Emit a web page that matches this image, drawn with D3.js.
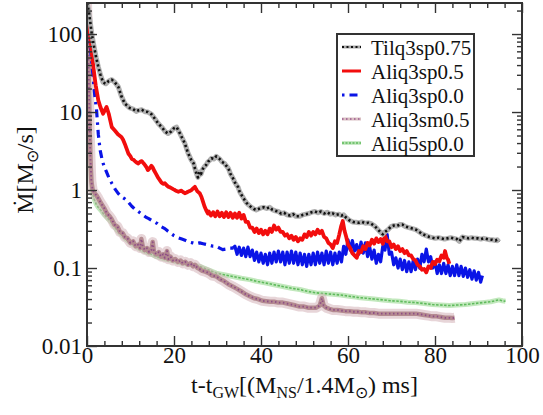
<!DOCTYPE html>
<html>
<head>
<meta charset="utf-8">
<script src="https://cdn.jsdelivr.net/npm/d3@7"></script>
<style>
  html, body { margin: 0; padding: 0; background: #fff; }
  svg { display: block; }
  text { font-family: "Liberation Serif", "Times New Roman", serif; fill: #111; }
</style>
</head>
<body>
<svg id="chart" width="543" height="415"></svg>
<script>
// Mass accretion rate onto the remnant vs. time after merger, [t, Mdot] pairs
const tilq3sp075 = [[0,250],[0.4,200],[0.8,135],[1.1,100],[1.6,70],[2.1,50],[2.6,38],[3.1,30],[3.7,24],[4.3,23],[5.0,25],[5.7,26],[6.4,24],[7.2,21],[7.9,16],[8.7,12.8],[9.3,12],[9.8,11.3],[10.5,11],[11.3,10.2],[11.8,10.5],[12.6,10.7],[13.3,10.1],[14.0,10.0],[14.8,9.4],[15.6,8.2],[16.4,7.1],[17.2,6.4],[18.0,5.6],[18.6,5.3],[19.3,5.6],[20.0,6.2],[20.6,6.4],[21.3,5.4],[22.0,4.5],[22.5,3.95],[23.2,3.0],[24.0,2.4],[24.5,2.2],[24.8,1.9],[25.2,1.6],[25.5,1.45],[25.8,1.7],[26.2,1.6],[26.6,1.85],[27.0,2.0],[27.4,2.1],[27.8,2.3],[28.2,2.4],[28.6,2.55],[29.2,2.5],[29.7,2.7],[30.1,2.6],[30.5,2.5],[31.0,2.3],[31.6,2.2],[32.0,2.05],[32.5,1.9],[33.0,1.6],[33.3,1.5],[33.6,1.4],[34.0,1.25],[34.4,1.15],[34.7,1.1],[35.1,0.95],[35.6,0.85],[36.2,0.75],[36.7,0.68],[37.2,0.64],[37.8,0.6],[38.4,0.57],[38.9,0.555],[39.4,0.57],[40.0,0.59],[40.6,0.6],[41.3,0.58],[42.0,0.6],[42.6,0.56],[43.3,0.54],[44.0,0.53],[44.6,0.5],[45.3,0.51],[46.0,0.48],[46.7,0.47],[47.4,0.49],[48.0,0.46],[48.9,0.46],[49.6,0.48],[50.3,0.49],[51.0,0.5],[51.7,0.52],[52.4,0.53],[53.1,0.51],[53.8,0.53],[54.5,0.5],[55.2,0.52],[55.9,0.49],[56.5,0.5],[57.2,0.48],[57.9,0.49],[58.5,0.47],[59.0,0.48],[59.6,0.44],[60.3,0.41],[61.1,0.39],[61.8,0.385],[62.5,0.38],[63.2,0.39],[64.0,0.375],[64.7,0.38],[65.3,0.37],[66.0,0.35],[66.7,0.32],[67.4,0.29],[68.0,0.27],[68.5,0.29],[69.2,0.31],[69.9,0.34],[70.5,0.35],[71.2,0.345],[71.9,0.36],[72.5,0.36],[73.2,0.34],[74.0,0.33],[74.8,0.32],[75.6,0.31],[76.4,0.29],[77.2,0.27],[78.0,0.26],[78.7,0.25],[79.4,0.245],[80.1,0.24],[80.8,0.245],[81.5,0.24],[82.2,0.235],[82.9,0.24],[83.6,0.245],[84.3,0.24],[85.0,0.235],[85.6,0.22],[86.3,0.25],[87.0,0.245],[87.7,0.24],[88.4,0.245],[89.1,0.24],[89.8,0.24],[90.5,0.235],[91.2,0.24],[91.9,0.235],[92.6,0.23],[93.2,0.23],[93.9,0.225],[94.3,0.23],[94.7,0.215]];

const aliq3sp05 = [[0,220],[0.3,170],[0.7,100],[1.0,65],[1.45,38],[2.0,22],[2.6,14.1],[3.1,11.5],[3.7,9.5],[4.2,10.8],[4.5,11.6],[5.0,9.5],[5.7,6.4],[6.4,5.8],[7.1,5.2],[7.9,4.8],[8.3,4.4],[8.7,3.9],[9.1,3.4],[9.5,2.94],[10.0,2.7],[10.3,2.5],[10.7,2.45],[11.0,2.35],[11.4,2.25],[11.8,2.19],[12.2,2.3],[12.6,2.35],[13.0,2.2],[13.3,2.1],[13.7,1.95],[14.0,1.8],[14.4,1.9],[14.8,2.05],[15.1,1.95],[15.5,1.75],[15.9,1.6],[16.3,1.45],[16.7,1.35],[17.1,1.25],[17.5,1.2],[17.9,1.22],[18.3,1.15],[18.7,1.1],[19.1,1.08],[19.5,1.05],[19.9,1.02],[20.2,1.0],[20.6,0.97],[21.0,0.95],[21.4,0.97],[21.7,0.98],[22.1,0.94],[22.5,0.91],[22.9,0.93],[23.2,0.95],[23.6,0.97],[24.0,1.0],[24.4,1.05],[24.8,1.1],[25.1,1.02],[25.4,0.96],[25.9,0.91],[26.3,0.82],[26.7,0.7],[27.0,0.62],[27.4,0.55],[27.8,0.5],
  [28.0,0.53],[28.5,0.47],[29.0,0.52],[29.5,0.46],[30.0,0.53],[30.5,0.46],[31.0,0.51],[31.5,0.45],[32.0,0.52],[32.5,0.45],[33.0,0.51],[33.5,0.44],[34.0,0.5],[34.5,0.44],[35.0,0.51],[35.5,0.43],[36.0,0.48],[36.5,0.39],[37.0,0.39],[37.5,0.33],[38.0,0.33],[38.5,0.29],[39.0,0.32],[39.5,0.28],[40.0,0.31],[40.5,0.27],[41.0,0.3],[41.5,0.27],[42.0,0.32],[42.5,0.29],[43.0,0.35],[43.5,0.31],[44.0,0.33],[44.5,0.29],[45.0,0.29],[45.5,0.26],[46.0,0.27],[46.5,0.24],[47.0,0.26],[47.5,0.23],[48.0,0.25],[48.5,0.22],[49.0,0.24],[49.5,0.23],[50.0,0.27],[50.5,0.25],[51.0,0.29],[51.5,0.26],[52.0,0.29],[52.5,0.27],[53.0,0.31],[53.5,0.28],[54.0,0.3],[54.5,0.25],[55.0,0.24],[55.5,0.21],[56.0,0.2],[56.5,0.18],[57.0,0.22],[57.5,0.21],[58.0,0.27],[58.4,0.34],[58.8,0.4],[59.2,0.3],[59.6,0.25],[60.0,0.2],[60.5,0.18],[61.0,0.155],[61.5,0.145],[62.0,0.135],[62.5,0.165],[63.0,0.16],[63.5,0.19],[64.0,0.175],[64.5,0.21],[65.0,0.195],[65.5,0.23],[66.0,0.205],[66.5,0.24],[67.0,0.215],[67.5,0.235],[68.0,0.205],[68.5,0.26],[69.0,0.22],[69.5,0.22],[70.0,0.185],[70.5,0.2],[71.0,0.175],[71.5,0.19],[72.0,0.165],[72.5,0.175],[73.0,0.155],[73.5,0.165],[74.0,0.145],[74.5,0.145],[75.0,0.13],[75.5,0.125],[76.0,0.11],[76.5,0.105],[77.0,0.095],[77.5,0.097],[78.0,0.088],[78.5,0.105],[79.0,0.1],[79.5,0.12],[80.0,0.112],[80.5,0.128],[81.0,0.122],[81.5,0.145],[82.0,0.135],[82.3,0.165],[82.7,0.135],[83.0,0.128],[83.3,0.113]];

const aliq3sp00 = [[0,220],[0.3,160],[0.6,90],[1.0,50],[1.4,28],[1.8,16],[2.2,10.5],[2.6,5.2],[3.0,3.3],[3.5,2.4],[4.0,1.95],[4.5,1.7],[5.0,1.45],[5.7,1.22],[6.5,1.02],[7.2,0.9],[7.9,0.82],[8.7,0.77],[9.5,0.7],[10.3,0.62],[11.0,0.57],[11.8,0.53],[12.6,0.49],[13.5,0.45],[14.2,0.43],[14.8,0.41],[15.5,0.39],[16.2,0.37],[17.0,0.34],[17.9,0.32],[18.5,0.3],[19.2,0.28],[20.0,0.26],[20.9,0.245],[21.8,0.235],[22.7,0.225],[23.5,0.215],[24.3,0.21],[25.0,0.205],[25.9,0.21],[26.7,0.205],[27.5,0.2],[28.3,0.195],[29.0,0.19],[29.7,0.19],[30.5,0.18],[31.2,0.172],[32.0,0.175],[32.8,0.18],[33.5,0.18],
  [34.0,0.19],[34.5,0.15],[35.0,0.185],[35.5,0.145],[36.0,0.18],[36.5,0.14],[37.0,0.185],[37.5,0.14],[38.0,0.17],[38.5,0.125],[39.0,0.16],[39.5,0.12],[40.0,0.155],[40.5,0.115],[41.0,0.15],[41.5,0.11],[42.0,0.155],[42.5,0.115],[43.0,0.16],[43.5,0.12],[44.0,0.165],[44.5,0.12],[45.0,0.16],[45.5,0.11],[46.0,0.16],[46.5,0.115],[47.0,0.165],[47.5,0.115],[48.0,0.16],[48.5,0.11],[49.0,0.155],[49.5,0.11],[50.0,0.15],[50.5,0.105],[51.0,0.15],[51.5,0.11],[52.0,0.155],[52.5,0.11],[53.0,0.16],[53.5,0.115],[54.0,0.155],[54.5,0.11],[55.0,0.165],[55.5,0.115],[56.0,0.16],[56.5,0.11],[57.0,0.155],[57.5,0.115],[58.0,0.16],[58.5,0.12],[59.0,0.19],[59.5,0.15],[60.0,0.23],[60.5,0.17],[61.0,0.225],[61.5,0.165],[62.0,0.2],[62.5,0.15],[63.0,0.215],[63.5,0.155],[64.0,0.21],[64.5,0.14],[65.0,0.185],[65.5,0.13],[66.0,0.17],[66.5,0.115],[67.0,0.15],[67.5,0.12],[68.0,0.19],[68.5,0.17],[69.0,0.27],[69.5,0.15],[70.0,0.16],[70.5,0.11],[71.0,0.135],[71.5,0.1],[72.0,0.13],[72.5,0.095],[73.0,0.125],[73.5,0.09],[74.0,0.12],[74.5,0.09],[75.0,0.125],[75.5,0.095],[76.0,0.13],[76.5,0.1],[77.0,0.15],[77.5,0.12],[78.0,0.175],[78.5,0.12],[79.0,0.14],[79.5,0.1],[80.0,0.12],[80.5,0.085],[81.0,0.11],[81.5,0.085],[82.0,0.115],[82.5,0.085],[83.0,0.11],[83.5,0.08],[84.0,0.105],[84.5,0.08],[85.0,0.11],[85.5,0.08],[86.0,0.105],[86.5,0.078],[87.0,0.1],[87.5,0.076],[88.0,0.095],[88.5,0.072],[89.0,0.092],[89.5,0.07],[90.0,0.088],[90.5,0.066],[90.9,0.08]];

const aliq3sm05 = [[0,250],[0.2,120],[0.4,30],[0.6,6],[0.8,2.5],[1.0,1.3],[1.3,1.0],[1.7,0.92],[2.2,0.85],[2.6,0.78],[3.2,0.68],[4.0,0.58],[4.6,0.5],[5.2,0.46],[5.7,0.42],[6.3,0.36],[7.0,0.34],[7.6,0.29],[8.2,0.28],[8.7,0.25],[9.3,0.24],[10.0,0.21],[10.6,0.22],[11.2,0.19],[11.8,0.2],[12.2,0.18],[12.5,0.235],[12.8,0.19],[13.3,0.17],[13.8,0.18],[14.3,0.16],[14.8,0.17],[15.1,0.215],[15.4,0.16],[16.0,0.15],[16.5,0.16],[17.0,0.14],[17.5,0.15],[17.9,0.135],[18.4,0.165],[18.7,0.13],[19.2,0.14],[19.7,0.125],[20.3,0.13],[20.9,0.12],[21.5,0.125],[22.0,0.115],[22.6,0.12],[23.2,0.11],[23.8,0.115],[24.4,0.105],[24.8,0.11],[25.4,0.1],[25.9,0.097],[26.5,0.092],[27.2,0.09],[28.0,0.086],[28.8,0.08],[29.7,0.078],[30.6,0.072],[31.5,0.068],[32.5,0.062],[33.5,0.058],[34.5,0.054],[35.5,0.05],[36.5,0.046],[37.4,0.0435],[38.4,0.041],[39.3,0.04],[40.3,0.038],[41.2,0.0375],[42.1,0.037],[43.0,0.037],[44.0,0.036],[45.0,0.036],[46.0,0.035],[47.0,0.034],[48.0,0.033],[48.9,0.032],[49.9,0.032],[50.8,0.031],[51.8,0.031],[52.7,0.031],[53.5,0.033],[54.0,0.041],[54.4,0.033],[55.0,0.031],[55.7,0.03],[56.5,0.029],[57.5,0.029],[58.4,0.0285],[59.4,0.028],[60.3,0.028],[61.3,0.0275],[62.2,0.0275],[63.2,0.027],[64.1,0.027],[65.0,0.0265],[66.0,0.0265],[67.0,0.026],[68.0,0.026],[69.0,0.026],[70.0,0.026],[71.0,0.026],[71.8,0.026],[72.8,0.026],[73.7,0.026],[74.6,0.026],[75.6,0.026],[76.5,0.0255],[77.5,0.025],[78.5,0.0245],[79.4,0.024],[80.4,0.024],[81.3,0.0235],[82.3,0.023],[83.3,0.023],[84.0,0.0228],[84.5,0.023]];

const aliq5sp00 = [[0,250],[0.2,100],[0.4,20],[0.6,5],[0.8,2.0],[1.0,1.2],[1.3,0.9],[1.7,0.75],[2.2,0.65],[2.6,0.6],[3.2,0.55],[4.0,0.48],[5.0,0.42],[5.7,0.38],[7.0,0.3],[8.7,0.24],[10.0,0.21],[11.8,0.18],[13.0,0.165],[14.8,0.15],[16.0,0.14],[17.9,0.13],[19.5,0.125],[20.9,0.118],[23.0,0.112],[24.8,0.108],[25.9,0.105],[28.0,0.094],[29.7,0.086],[31.5,0.082],[33.5,0.078],[35.5,0.074],[37.4,0.071],[39.3,0.067],[41.2,0.064],[43.0,0.061],[45.0,0.058],[47.0,0.055],[48.9,0.053],[50.8,0.05],[52.7,0.048],[54.6,0.047],[56.5,0.046],[58.4,0.045],[60.3,0.0435],[62.2,0.042],[64.1,0.041],[66.0,0.04],[68.0,0.039],[70.0,0.038],[71.8,0.0375],[73.7,0.0365],[75.6,0.036],[77.5,0.035],[79.4,0.034],[81.3,0.0335],[83.3,0.033],[85.0,0.0335],[87.0,0.034],[89.0,0.035],[90.9,0.036],[92.8,0.037],[94.7,0.039],[95.5,0.038],[96.2,0.0375]];

const seriesNames = ["Tilq3sp0.75", "Aliq3sp0.5", "Aliq3sp0.0", "Aliq3sm0.5", "Aliq5sp0.0"];
const xTicks = [0, 20, 40, 60, 80, 100];
const yTicks = [0.01, 0.1, 1, 10, 100];

const svg = d3.select("#chart");
const W = 543, H = 415;
const margin = { left: 87, right: W - 522, top: 3, bottom: H - 346 };
const x0 = margin.left, x1 = W - margin.right, y0 = H - margin.bottom, y1 = margin.top;

const x = d3.scaleLinear().domain([0, 100]).range([x0, x1]);
const y = d3.scaleLog().domain([0.01, 250]).range([y0, y1]);

svg.append("defs").append("clipPath").attr("id", "plotClip")
  .append("rect").attr("x", x0).attr("y", y1).attr("width", x1 - x0).attr("height", y0 - y1);

const line = d3.line().x(d => x(d[0])).y(d => y(d[1]));
const plot = svg.append("g").attr("clip-path", "url(#plotClip)")
  .attr("fill", "none").attr("stroke-linejoin", "round");

// Aliq5sp0.0 : chain of light green crosses
plot.append("path").datum(aliq5sp00).attr("d", line)
  .attr("stroke", "#c2e8bd").attr("stroke-width", 5);
plot.append("path").datum(aliq5sp00).attr("d", line)
  .attr("stroke", "#5fba5c").attr("stroke-width", 1.6)
  .attr("stroke-dasharray", "2.5,1.5");

// Aliq3sm0.5 : mauve band with purple dots
plot.append("path").datum(aliq3sm05).attr("d", line)
  .attr("stroke", "#d3b3b8").attr("stroke-width", 10).attr("stroke-opacity", 0.55);
plot.append("path").datum(aliq3sm05).attr("d", line)
  .attr("stroke", "#b48a90").attr("stroke-width", 4.5);
plot.append("path").datum(aliq3sm05).attr("d", line)
  .attr("stroke", "#8e4e86").attr("stroke-width", 1.8)
  .attr("stroke-dasharray", "1.5,2.5");

// Aliq3sp0.0 : blue dash-dot, turning into a noisy solid band
const blueSplit = 34;
plot.append("path").datum(aliq3sp00.filter(d => d[0] <= blueSplit)).attr("d", line)
  .attr("stroke", "#0a14e6").attr("stroke-width", 3.2)
  .attr("stroke-dasharray", "8,5,2.5,5");
plot.append("path").datum(aliq3sp00.filter(d => d[0] >= blueSplit - 0.5)).attr("d", line)
  .attr("stroke", "#0a14e6").attr("stroke-width", 3.2);

// Aliq3sp0.5 : red solid
plot.append("path").datum(aliq3sp05).attr("d", line)
  .attr("stroke", "#f20d0d").attr("stroke-width", 3.8);

// Tilq3sp0.75 : grey halo with black dots
plot.append("path").datum(tilq3sp075).attr("d", line)
  .attr("stroke", "#b0b0b0").attr("stroke-width", 5);
plot.append("path").datum(tilq3sp075).attr("d", line)
  .attr("stroke", "#111").attr("stroke-width", 2.6)
  .attr("stroke-dasharray", "2.2,2.6");

// Frame and ticks (inward on all four sides)
const tickColor = "#333";
function styleAxis(g) {
  g.select(".domain").remove();
  g.selectAll("line").attr("stroke", tickColor).attr("stroke-width", 1.4);
  g.selectAll("text").attr("font-family", "Liberation Serif, Times New Roman, serif")
    .attr("font-size", 23).attr("fill", "#111");
}
const xMinor = d3.range(0, 101, 4).filter(v => v % 20 !== 0);
const yMinor = [];
[0.01, 0.1, 1, 10, 100].forEach(d => { for (let k = 2; k <= 9; k++) { const v = d * k; if (v <= 250) yMinor.push(v); } });

svg.append("g").attr("transform", `translate(0,${y0})`)
  .call(d3.axisBottom(x).tickValues(xTicks).tickSize(-10).tickPadding(1).tickFormat(d3.format("d")))
  .call(styleAxis);
svg.append("g").attr("transform", `translate(0,${y0})`)
  .call(d3.axisBottom(x).tickValues(xMinor).tickSize(-5).tickFormat(""))
  .call(styleAxis);
svg.append("g").attr("transform", `translate(0,${y1})`)
  .call(d3.axisTop(x).tickValues(xTicks).tickSize(-10).tickFormat(""))
  .call(styleAxis);
svg.append("g").attr("transform", `translate(0,${y1})`)
  .call(d3.axisTop(x).tickValues(xMinor).tickSize(-5).tickFormat(""))
  .call(styleAxis);

const yFmt = d => (d >= 1 ? d3.format("d")(d) : String(d));
svg.append("g").attr("transform", `translate(${x0},0)`)
  .call(d3.axisLeft(y).tickValues(yTicks).tickSize(-10).tickPadding(5).tickFormat(yFmt))
  .call(styleAxis);
svg.append("g").attr("transform", `translate(${x0},0)`)
  .call(d3.axisLeft(y).tickValues(yMinor).tickSize(-5).tickFormat(""))
  .call(styleAxis);
svg.append("g").attr("transform", `translate(${x1},0)`)
  .call(d3.axisRight(y).tickValues(yTicks).tickSize(-10).tickFormat(""))
  .call(styleAxis);
svg.append("g").attr("transform", `translate(${x1},0)`)
  .call(d3.axisRight(y).tickValues(yMinor).tickSize(-5).tickFormat(""))
  .call(styleAxis);

svg.append("rect").attr("x", x0).attr("y", y1).attr("width", x1 - x0).attr("height", y0 - y1)
  .attr("fill", "none").attr("stroke", "#333").attr("stroke-width", 2);

// Axis titles
const xt = svg.append("text").attr("x", (x0 + x1) / 2).attr("y", 393)
  .attr("text-anchor", "middle").attr("font-size", 24);
xt.append("tspan").text("t-t");
xt.append("tspan").attr("font-size", 16).attr("dy", 5).text("GW");
xt.append("tspan").attr("dy", -5).text("[(M");
xt.append("tspan").attr("font-size", 16).attr("dy", 5).text("NS");
xt.append("tspan").attr("dy", -5).text("/1.4M");
xt.append("tspan").attr("font-size", 16).attr("dy", 5).text("\u2299");
xt.append("tspan").attr("dy", -5).text(") ms]");

const yt = svg.append("text").attr("transform", `translate(33,170) rotate(-90)`)
  .attr("text-anchor", "middle").attr("font-size", 24);
yt.append("tspan").text("\u1E40[M");
yt.append("tspan").attr("font-size", 16).attr("dy", 5).text("\u2299");
yt.append("tspan").attr("dy", -5).text("/s]");

// Legend
const lg = svg.append("g");
lg.append("rect").attr("x", 337).attr("y", 34).attr("width", 137).attr("height", 122)
  .attr("fill", "#fff").attr("stroke", "#333").attr("stroke-width", 2);
const rowY = i => 47 + i * 24;
const sx0 = 342, sx1 = 361;
const legendSample = [
  g => { g.append("line").attr("stroke", "#a8a8a8").attr("stroke-width", 3);
         g.append("line").attr("stroke", "#111").attr("stroke-width", 2).attr("stroke-dasharray", "2,2.5"); },
  g => { g.append("line").attr("stroke", "#f20d0d").attr("stroke-width", 3); },
  g => { g.append("line").attr("stroke", "#0a14e6").attr("stroke-width", 3).attr("stroke-dasharray", "2.5,5,8,5"); },
  g => { g.append("line").attr("stroke", "#c9a3a8").attr("stroke-width", 3).attr("stroke-opacity", 0.7);
         g.append("line").attr("stroke", "#9a5a8e").attr("stroke-width", 1.5).attr("stroke-dasharray", "1.5,2.5"); },
  g => { g.append("line").attr("stroke", "#b9e3b4").attr("stroke-width", 3.5);
         g.append("line").attr("stroke", "#5fba5c").attr("stroke-width", 1.4).attr("stroke-dasharray", "2,1.5"); }
];
seriesNames.forEach((name, i) => {
  const g = lg.append("g");
  legendSample[i](g);
  g.selectAll("line").attr("x1", sx0).attr("x2", sx1).attr("y1", rowY(i)).attr("y2", rowY(i));
  lg.append("text").attr("x", 371).attr("y", rowY(i) + 7.5).attr("font-size", 21).text(name);
});
</script>
</body>
</html>
